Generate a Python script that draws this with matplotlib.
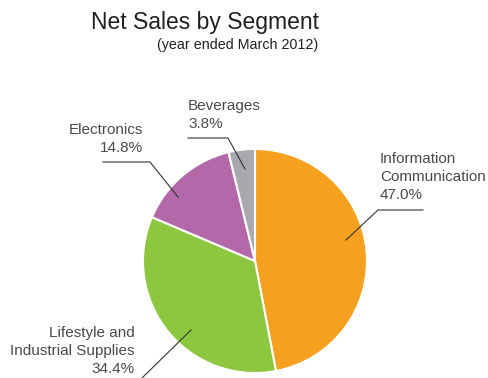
import matplotlib.pyplot as plt

segments = ['Information\nCommunication', 'Lifestyle and\nIndustrial Supplies', 'Electronics', 'Beverages']
shares = [47.0, 34.4, 14.8, 3.8]
colors = ['#f6a01f', '#8dc63f', '#b268a9', '#a8a9ad']

W, H = 489, 378
plt.rcParams['font.family'] = ['Liberation Sans', 'DejaVu Sans']

fig = plt.figure(figsize=(W / 100, H / 100), dpi=100)

# pie centred at (255, 261) px, radius 112 px
cx, cy, r = 255, 261, 112
ax = fig.add_axes([(cx - r) / W, 1 - (cy + r) / H, 2 * r / W, 2 * r / H])
ax.pie(shares, colors=colors, startangle=90, counterclock=False,
       wedgeprops=dict(edgecolor='white', linewidth=1.5))
ax.set_xlim(-1, 1)
ax.set_ylim(-1, 1)
ax.set_aspect('equal')

# overlay in pixel coordinates for titles, labels and leader lines
ov = fig.add_axes([0, 0, 1, 1])
ov.set_xlim(0, W)
ov.set_ylim(H, 0)
ov.axis('off')

ov.text(205, 22, 'Net Sales by Segment', ha='center', va='center', fontsize=16.5, color='#231f20')
ov.text(318, 45, '(year ended March 2012)', ha='right', va='center', fontsize=10.3, color='#231f20')

label_color = '#4a4a4a'
fs = 11

def label(text, x, y, ha, line):
    ov.text(x, y, text, ha=ha, va='center', fontsize=fs, color=label_color, linespacing=1.38)
    xs, ys = zip(*line)
    ov.plot(xs, ys, color='#333333', linewidth=0.8)

label(segments[0] + '\n' + f'{shares[0]:.1f}%', 380, 177, 'left',
      [(423, 210), (378, 210), (346, 240)])
label(segments[1] + '\n' + f'{shares[1]:.1f}%', 135, 351, 'right',
      [(191, 330), (142, 378)])
label(segments[2] + '\n' + f'{shares[2]:.1f}%', 143, 139, 'right',
      [(103, 162), (150, 162), (178, 197)])
label(segments[3] + '\n' + f'{shares[3]:.1f}%', 188, 115, 'left',
      [(188, 138), (228, 138), (245, 169)])

fig.savefig('out.png', dpi=100)
